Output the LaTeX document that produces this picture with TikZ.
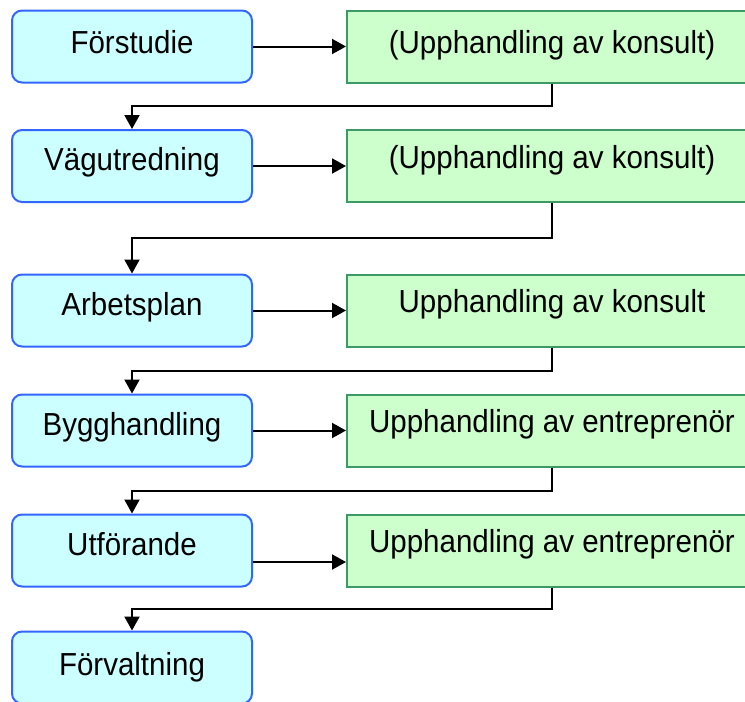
\documentclass[tikz,border=0pt]{standalone}
\usepackage{fontspec}
\setmainfont{Liberation Sans}
\usetikzlibrary{arrows.meta,calc}
\definecolor{bfill}{HTML}{CCFFFF}
\definecolor{bdraw}{HTML}{3366FF}
\definecolor{gfill}{HTML}{CCFFCC}
\definecolor{gdraw}{HTML}{3D9966}
\newcommand{\tallText}[1]{\scalebox{1}[1.08]{#1}}
\tikzset{
  stagebox/.style={draw=bdraw, fill=bfill, line width=2pt, rounded corners=10pt,
    minimum width=240pt, minimum height=72pt, inner sep=0pt,
    font=\fontsize{29.5}{34}\selectfont, text height=22pt, text depth=13pt},
  procbox/.style={draw=gdraw, fill=gfill, line width=2pt,
    minimum width=410pt, minimum height=72pt, inner sep=0pt,
    font=\fontsize{29.5}{34}\selectfont, text height=22pt, text depth=18pt},
  firstrow/.style={text height=22pt, text depth=8pt},
  conn/.style={draw=black, line width=2pt, -{Triangle[length=14pt,width=15pt]}},
  elbow/.style={draw=black, line width=2pt, -{Triangle[length=14pt,width=15pt]}}
}
\begin{document}
\begin{tikzpicture}[x=1pt,y=-1pt]
\useasboundingbox (0,0) rectangle (745,702);
\clip (0,0) rectangle (745,702);
\fill[white] (0,0) rectangle (745,702);
% stage boxes
\node[stagebox, firstrow] (b1) at (132,46.5) {\tallText{Förstudie}};
\node[stagebox] (b2) at (132,166) {\tallText{Vägutredning}};
\node[stagebox] (b3) at (132,310.5) {\tallText{Arbetsplan}};
\node[stagebox] (b4) at (132,430.5) {\tallText{Bygghandling}};
\node[stagebox] (b5) at (132,550.5) {\tallText{Utförande}};
\node[stagebox, text depth=7pt] (b6) at (132,667.5) {\tallText{Förvaltning}};
% procurement boxes
\node[procbox, firstrow] (g1) at (552,46.5) {\tallText{(Upphandling av konsult)}};
\node[procbox] (g2) at (552,166) {\tallText{(Upphandling av konsult)}};
\node[procbox] (g3) at (552,310.5) {\tallText{Upphandling av konsult}};
\node[procbox] (g4) at (552,430.5) {\tallText{Upphandling av entreprenör}};
\node[procbox] (g5) at (552,550.5) {\tallText{Upphandling av entreprenör}};
% horizontal arrows
\draw[conn] (b1.east) -- (g1.west);
\draw[conn] (b2.east) -- (g2.west);
\draw[conn] (b3.east) -- (g3.west);
\draw[conn] (b4.east) -- (g4.west);
\draw[conn] ([yshift=-11.5pt]b5.east) -- ([yshift=-11.5pt]g5.west);
% elbow connectors
\draw[elbow] (g1.south) |- ($(g1.south)!0.5!(b2.north)$) -| (b2.north);
\draw[elbow] (g2.south) |- ($(g2.south)!0.5!(b3.north)$) -| (b3.north);
\draw[elbow] (g3.south) |- ($(g3.south)!0.5!(b4.north)$) -| (b4.north);
\draw[elbow] (g4.south) |- ($(g4.south)!0.5!(b5.north)$) -| (b5.north);
\draw[elbow] (g5.south) |- ($(g5.south)!0.5!(b6.north)$) -| (b6.north);
\end{tikzpicture}
\end{document}
